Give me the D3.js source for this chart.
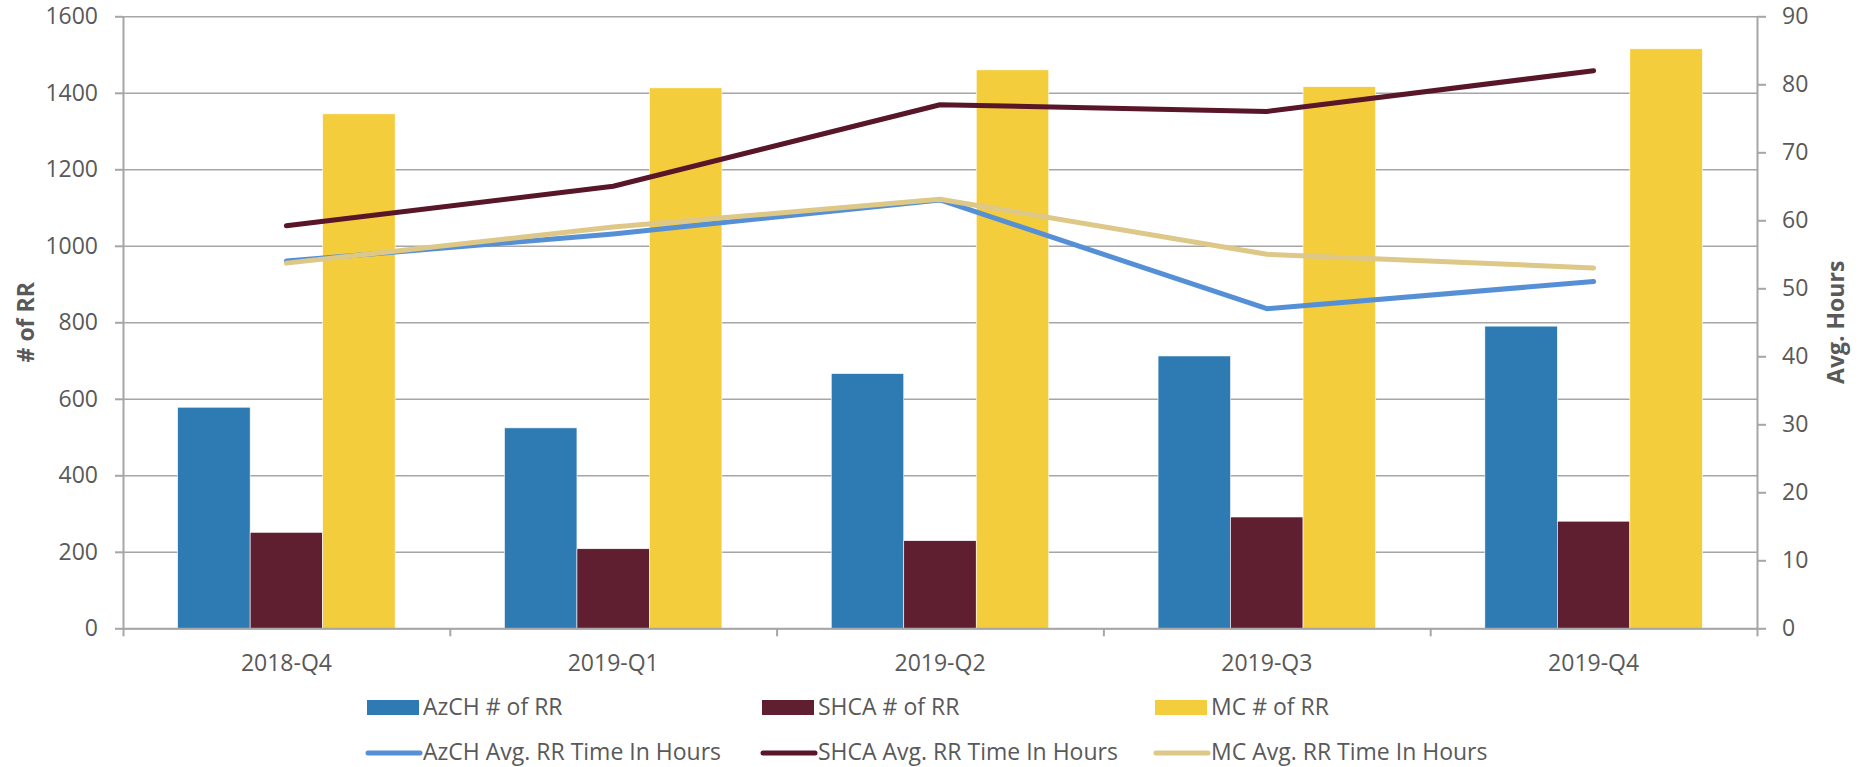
<!DOCTYPE html>
<html>
<head>
<meta charset="utf-8">
<script src="https://cdn.jsdelivr.net/npm/d3@7"></script>
<style>
  body { margin: 0; background: #fff; }
  text { font-family: 'Open Sans', sans-serif; fill: #595959; }
</style>
</head>
<body>
<div id="chart"></div>
<script>
// quarters along the x axis
var quarters = ['2018-Q4', '2019-Q1', '2019-Q2', '2019-Q3', '2019-Q4'];

// number of RR (left axis)
var azchCount = [578, 524, 666, 712, 790];
var shcaCount = [251, 208, 229, 291, 280];
var mcCount   = [1345, 1413, 1460, 1416, 1515];

// avg RR time in hours (right axis)
var azchHours = [54, 58, 63, 47, 51];
var shcaHours = [59.2, 65, 77, 76, 82];
var mcHours   = [53.7, 59, 63.1, 55, 53];

var leftTicks  = [0, 200, 400, 600, 800, 1000, 1200, 1400, 1600];
var rightTicks = [0, 10, 20, 30, 40, 50, 60, 70, 80, 90];

var barNames  = ['AzCH # of RR', 'SHCA # of RR', 'MC # of RR'];
var lineNames = ['AzCH Avg. RR Time In Hours', 'SHCA Avg. RR Time In Hours', 'MC Avg. RR Time In Hours'];

var barColors  = ['#2e7bb3', '#5f1f30', '#f4cd3c'];
var lineColors = ['#5590d6', '#581628', '#ddc888'];

var W = 1859, H = 767;
var margin = {top: 16.3, left: 123, right: W - 1757, bottom: H - 628.3};
var width = W - margin.left - margin.right,
    height = H - margin.top - margin.bottom;

var svg = d3.select('#chart').append('svg')
    .attr('width', W)
    .attr('height', H);

var g = svg.append('g')
    .attr('transform', 'translate(' + margin.left + ',' + margin.top + ')');

var p = 0.3345;
var x0 = d3.scaleBand().domain(quarters).range([0, width])
    .paddingInner(p).paddingOuter(p / 2);
var x1 = d3.scaleBand().domain(d3.range(3)).range([0, x0.bandwidth()]);

var yL = d3.scaleLinear().domain([0, 1600]).range([height, 0]);
var yR = d3.scaleLinear().domain([0, 90]).range([height, 0]);

// gridlines
g.append('g')
    .attr('class', 'grid')
    .call(d3.axisLeft(yL).tickValues(leftTicks).tickSize(-width).tickFormat(''))
    .call(function(s) {
      s.select('.domain').remove();
      s.selectAll('line').attr('stroke', '#a6a6a6').attr('stroke-width', 1.6);
    });

// bars
var bars = [azchCount, shcaCount, mcCount];
var grp = g.selectAll('.q')
    .data(quarters)
  .enter().append('g')
    .attr('class', 'q')
    .attr('transform', function(d) { return 'translate(' + x0(d) + ',0)'; });

grp.selectAll('rect')
    .data(function(d, i) { return bars.map(function(b, k) { return {k: k, v: b[i]}; }); })
  .enter().append('rect')
    .attr('x', function(d) { return x1(d.k); })
    .attr('width', x1.bandwidth())
    .attr('y', function(d) { return yL(d.v); })
    .attr('height', function(d) { return height - yL(d.v); })
    .attr('fill', function(d) { return barColors[d.k]; })
    .attr('stroke', '#fff')
    .attr('stroke-width', 0.6);

// axes
function styleAxis(s) {
  s.select('.domain').attr('stroke', '#a6a6a6').attr('stroke-width', 2);
  s.selectAll('.tick line').attr('stroke', '#a6a6a6').attr('stroke-width', 2);
  s.selectAll('text').attr('font-size', '23px').attr('fill', '#595959')
    .style('font-family', "'Open Sans', sans-serif");
}

g.append('g')
    .call(d3.axisLeft(yL).tickValues(leftTicks).tickFormat(d3.format('d'))
      .tickSize(8).tickSizeOuter(0).tickPadding(17))
    .call(styleAxis);

g.append('g')
    .attr('transform', 'translate(' + width + ',0)')
    .call(d3.axisRight(yR).tickValues(rightTicks).tickFormat(d3.format('d'))
      .tickSize(9).tickSizeOuter(0).tickPadding(16))
    .call(styleAxis);

var xi = d3.scaleLinear().domain([0, quarters.length]).range([0, width]);
g.append('g')
    .attr('transform', 'translate(0,' + height + ')')
    .call(d3.axisBottom(xi).tickValues(d3.range(quarters.length + 1)).tickSize(8).tickSizeOuter(0).tickFormat(''))
    .call(styleAxis);

g.append('g')
    .attr('transform', 'translate(0,' + height + ')')
    .call(d3.axisBottom(x0).tickSize(0).tickPadding(26))
    .call(styleAxis)
    .call(function(s) { s.select('.domain').remove(); });

// lines
var lines = [azchHours, shcaHours, mcHours];
var line = d3.line()
    .x(function(d, i) { return x0(quarters[i]) + x0.bandwidth() / 2; })
    .y(function(d) { return yR(d); });

lines.forEach(function(vals, k) {
  g.append('path')
      .datum(vals)
      .attr('fill', 'none')
      .attr('stroke', lineColors[k])
      .attr('stroke-width', 5)
      .attr('stroke-linejoin', 'round')
      .attr('stroke-linecap', 'round')
      .attr('d', line);
});

// axis titles
svg.append('text')
    .attr('transform', 'translate(26,' + (margin.top + height / 2) + ') rotate(-90)')
    .attr('text-anchor', 'middle')
    .attr('dy', '0.35em')
    .attr('font-size', '23px')
    .attr('font-weight', 'bold')
    .text('# of RR');

svg.append('text')
    .attr('transform', 'translate(1836,' + (margin.top + height / 2) + ') rotate(-90)')
    .attr('text-anchor', 'middle')
    .attr('dy', '0.35em')
    .attr('font-size', '23px')
    .attr('font-weight', 'bold')
    .text('Avg. Hours');

// legend
var legX = [367, 762, 1155];
var legend = svg.append('g').attr('class', 'legend');

barNames.forEach(function(name, k) {
  legend.append('rect')
      .attr('x', legX[k])
      .attr('y', 700)
      .attr('width', 52)
      .attr('height', 15)
      .attr('fill', barColors[k]);
  legend.append('text')
      .attr('x', legX[k] + 56)
      .attr('y', 707)
      .attr('dy', '0.35em')
      .attr('font-size', '23px')
      .text(name);
});

lineNames.forEach(function(name, k) {
  legend.append('line')
      .attr('x1', legX[k] + 1)
      .attr('x2', legX[k] + 53)
      .attr('y1', 753)
      .attr('y2', 753)
      .attr('stroke', lineColors[k])
      .attr('stroke-width', 5)
      .attr('stroke-linecap', 'round');
  legend.append('text')
      .attr('x', legX[k] + 56)
      .attr('y', 752)
      .attr('dy', '0.35em')
      .attr('font-size', '23px')
      .text(name);
});
</script>
</body>
</html>
